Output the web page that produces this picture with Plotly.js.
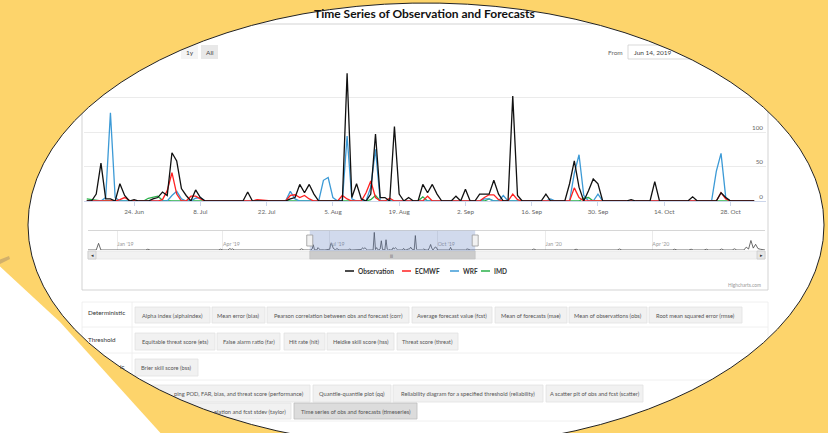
<!DOCTYPE html>
<html><head><meta charset="utf-8">
<script src="https://cdn.plot.ly/plotly-3.0.1.min.js"></script>
<style>html,body{margin:0;padding:0;background:#FDD46B;}#chart{width:828px;height:433px;}</style>
</head><body><div id="chart"></div>
<script>
// ---------------- DATA ----------------
const startDate = '2019-06-14';
const seriesNames = ['Observation', 'ECMWF', 'WRF', 'IMD'];
const seriesColors = ['#111111', '#ff2020', '#3c9ad6', '#2ab04a'];
const obs = [0,0,10,55,3,3,0,25,8,0, 2,0,0,0,3,5,13,8,70,58, 18,8,0,16,5,0,0,0,0,0, 0,0,0,0,13,0,0,0,0,0,
  0,0,0,3,5,24,12,24,10,0, 0,0,0,0,0,185,5,25,3,0, 10,97,5,5,0,108,10,0,5,0, 0,24,12,24,10,0,0,0,7,0,
  17,0,0,10,10,10,30,10,0,0, 152,8,0,0,0,0,0,10,0,0, 0,0,25,58,20,0,15,32,25,0, 0,0,0,0,0,2,0,0,0,0,
  28,0,0,0,0,0,0,0,6,0, 0,0,0,0,12,5,0,0,0,0,0,0];
const ecmwf = [0,0,0,0,0,0,0,2,5,1, 0,0,0,0,0,0,2,15,41,10, 0,0,7,7,3,0,0,0,0,0, 0,0,0,0,0,0,2,1,0,0,
  0,0,0,8,9,5,8,3,0,0, 0,0,0,0,8,3,0,0,0,12, 29,5,0,0,4,0,0,0,0,0, 0,0,7,0,0,0,0,0,0,0,
  0,0,0,0,5,9,9,2,0,0, 10,2,0,0,0,0,0,0,0,0, 0,0,0,19,5,0,0,0,0,0, 0,0,0,0,0,0,0,0,0,0,
  0,0,0,0,0,0,0,0,0,0, 0,0,0,0,12,3,0,0,0,0,0,0];
const wrf = [0,0,0,0,5,128,5,0,0,0, 0,0,0,0,0,0,0,0,8,14, 3,0,0,4,5,0,0,0,0,0, 0,0,0,0,0,0,0,0,0,0,
  0,0,0,14,3,0,0,0,0,0, 30,34,5,0,0,94,3,0,0,0, 20,75,0,0,0,0,0,0,0,0, 0,0,0,0,0,0,0,0,0,0,
  0,0,0,0,3,3,0,0,8,0, 0,0,0,0,0,0,0,0,3,0, 0,0,0,40,67,8,0,0,10,0, 0,0,0,0,0,0,0,0,0,0,
  0,0,0,0,0,0,0,0,0,0, 0,0,0,43,69,5,0,0,0,0,0,0];
const imd = [3,2,0,0,0,0,0,0,0,0, 0,0,0,4,6,7,1,0,0,0, 0,0,0,0,0,0,0,0,0,0, 1,1,1,0,0,0,0,0,0,0,
  0,0,0,0,0,0,0,0,0,0, 0,0,0,0,0,0,0,0,0,0, 2,8,0,0,0,0,0,0,0,0, 0,6,0,0,0,0,0,0,0,0,
  0,0,0,0,0,3,0,0,0,0, 0,0,0,0,0,0,0,0,0,0, 0,0,0,0,0,4,5,0,0,0, 0,0,0,0,0,0,0,0,0,0,
  0,0,0,0,0,0,0,0,0,0, 0,0,0,0,0,0,0,0,0,0,0,0];
// main x-axis ticks
const xTickVals = ['2019-06-24','2019-07-08','2019-07-22','2019-08-05','2019-08-19','2019-09-02','2019-09-16','2019-09-30','2019-10-14','2019-10-28'];
const xTickText = ['24. Jun','8. Jul','22. Jul','5. Aug','19. Aug','2. Sep','16. Sep','30. Sep','14. Oct','28. Oct'];
const yTickVals = [0,50,100,150,200];
// navigator (full observation record)
const navPreDates = ['2018-12-07','2018-12-14','2018-12-16','2018-12-18','2019-01-25','2019-01-27','2019-01-29','2019-02-18','2019-02-20','2019-02-22','2019-03-05','2019-03-07','2019-03-09','2019-03-28','2019-03-30','2019-04-01','2019-04-05','2019-04-07','2019-04-08','2019-04-09','2019-04-11','2019-05-14','2019-05-16','2019-05-18','2019-06-05','2019-06-07','2019-06-09','2019-06-13'];
const navPreVals  = [0,0,70,0, 0,8,0, 0,6,0, 0,6,0, 0,8,0, 0,15,5,12,0, 0,6,0, 0,12,0,0];
const navPostDates = ['2019-11-03','2019-11-20','2019-11-22','2019-11-24','2019-12-20','2019-12-22','2019-12-24','2020-01-25','2020-01-27','2020-01-29','2020-02-08','2020-02-10','2020-02-12','2020-02-20','2020-02-22','2020-02-24','2020-03-02','2020-03-04','2020-03-06','2020-04-18','2020-04-20','2020-04-22','2020-05-02','2020-05-04','2020-05-06','2020-05-15','2020-05-17','2020-05-19','2020-05-28','2020-05-30','2020-06-01','2020-06-08','2020-06-10','2020-06-12','2020-06-18','2020-06-20','2020-06-22','2020-06-24','2020-06-26','2020-06-28','2020-06-30','2020-07-02','2020-07-04','2020-07-06'];
const navPostVals  = [0,0,5,0, 0,10,0, 0,8,0, 0,6,0, 0,7,0, 0,10,0, 0,8,0, 0,8,0, 0,8,0, 0,10,0, 0,12,0, 0,30,10,100,20,60,15,8,0,0];
const navTickVals = ['2019-01-01','2019-04-01','2019-07-01','2019-10-01','2020-01-01','2020-04-01'];
const navTickText = ["Jan '19","Apr '19","Jul '19","Oct '19","Jan '20","Apr '20"];
const selFrom = '2019-06-14', selTo = '2019-11-02';
// page text
const chartTitle = 'Time Series of Observation and Forecasts';
const rowLabels = ['Deterministic','Threshold','ic'];
const row1 = ['Alpha index (alphaindex)','Mean error (bias)','Pearson correlation between obs and forecast (corr)','Average forecast value (fcst)','Mean of forecasts (mae)','Mean of observations (obs)','Root mean squared error (rmse)'];
const row2 = ['Equitable threat score (ets)','False alarm ratio (far)','Hit rate (hit)','Heidke skill score (hss)','Threat score (threat)'];
const row3 = ['Brier skill score (bss)'];
const row4 = ['ping POD, FAR, bias, and threat score (performance)','Quantile-quantile plot (qq)','Reliability diagram for a specified threshold (reliability)','A scatter plt of obs and fcst (scatter)'];
const row5 = ['elation and fcst stdev (taylor)','Time series of obs and forecasts (timeseries)'];

// ---------------- LAYOUT HELPERS ----------------
const W = 828, H = 433;
const X = p => p / W, Y = p => 1 - p / H;
const FONT = 'Lato, "Open Sans", sans-serif';
const YELLOW = '#FDD46B';

const dates = obs.map((_, i) => { const d = new Date(startDate + 'T00:00:00Z'); d.setUTCDate(d.getUTCDate() + i); return d.toISOString().slice(0,10); });
const seriesData = [obs, ecmwf, wrf, imd];

const traces = [];
[3,2,1,0].forEach(k => traces.push({
  type: 'scatter', mode: 'lines', x: dates, y: seriesData[k], name: seriesNames[k],
  line: {color: seriesColors[k], width: 1.3}, xaxis: 'x', yaxis: 'y', showlegend: false, hoverinfo: 'skip'
}));
traces.push({type:'scatter', mode:'lines', x: navPreDates.concat(dates, navPostDates), y: navPreVals.concat(obs, navPostVals),
  line:{color:'#444', width:0.8}, xaxis:'x2', yaxis:'y2', showlegend:false, hoverinfo:'skip'});

const shapes = [], annotations = [];
function rect(x0,y0,x1,y1,fill,line,layer){ shapes.push({type:'rect', xref:'paper', yref:'paper', x0:X(x0), x1:X(x1), y0:Y(y1), y1:Y(y0), fillcolor:fill, line:{color:line||'rgba(0,0,0,0)', width: line?0.8:0}, layer: layer||'below'}); }
function hline(x0,x1,y,color){ shapes.push({type:'line', xref:'paper', yref:'paper', x0:X(x0), x1:X(x1), y0:Y(y), y1:Y(y), line:{color:color, width:0.8}, layer:'below'}); }
function vline(x,y0,y1,color){ shapes.push({type:'line', xref:'paper', yref:'paper', x0:X(x), x1:X(x), y0:Y(y0), y1:Y(y1), line:{color:color, width:0.8}, layer:'below'}); }
function text(t,x,y,size,color,anchor,bold){ annotations.push({text: bold?'<b>'+t+'</b>':t, xref:'paper', yref:'paper', x:X(x), y:Y(y), xanchor:anchor||'left', yanchor:'middle', showarrow:false, font:{family:FONT, size:size, color:color}}); }

// chart container
rect(82, 24, 768, 290, 'rgba(0,0,0,0)', '#c8c8c8');
// range selector
rect(181, 45, 198, 59, '#f4f4f4');
rect(201, 45, 218, 59, '#e8e8e8');
text('1y', 189.5, 52.5, 6.5, '#444', 'center');
text('All', 209.5, 52.5, 6.5, '#444', 'center');
text('From', 625, 52.5, 6.5, '#666', 'right');
rect(628, 45, 694, 59, '#ffffff', '#cfcfcf');
text('Jun 14, 2019', 632, 52.5, 6.5, '#444', 'left');
// navigator frame
hline(88, 765, 230.5, '#cccccc');
shapes.push({type:'rect', xref:'x2', yref:'paper', x0:selFrom, x1:selTo, y0:Y(251), y1:Y(230.5), fillcolor:'rgba(102,133,194,0.30)', line:{width:0}, layer:'above'});
[selFrom, selTo].forEach(d => shapes.push({type:'rect', xref:'x2', yref:'paper', xsizemode:'pixel', xanchor:d, x0:-3, x1:3, y0:Y(246), y1:Y(235), fillcolor:'#f2f2f2', line:{color:'#999', width:0.8}, layer:'above'}));
// scrollbar
rect(88, 251, 765, 259, '#f2f2f2', '#e4e4e4');
rect(88, 251, 96, 259, '#e6e6e6', '#cccccc');
rect(757, 251, 765, 259, '#e6e6e6', '#cccccc');
shapes.push({type:'rect', xref:'x2', yref:'paper', x0:selFrom, x1:selTo, y0:Y(259), y1:Y(251), fillcolor:'#cccccc', line:{color:'#c0c0c0', width:0.6}, layer:'below'});
text('▸', 761, 255, 5, '#333', 'center');
text('◂', 92, 255, 5, '#333', 'center');
text('|||', 391.5, 255, 4, '#333', 'center');
// legend
const legX = [345, 402, 450, 481];
seriesNames.forEach((n,k) => {
  shapes.push({type:'line', xref:'paper', yref:'paper', x0:X(legX[k]), x1:X(legX[k]+9), y0:Y(271), y1:Y(271), line:{color:seriesColors[k], width:1.5}, layer:'below'});
  text(n, legX[k]+11, 271, 6.5, '#333', 'left', true);
});
text('Highcharts.com', 763, 284.5, 4.8, '#999', 'right');
// title
text(chartTitle, 425, 13, 12, '#111', 'center', true);
// table
const tableLines = '#ececec';
hline(82, 768, 302, tableLines); hline(82, 768, 327, tableLines); hline(82, 768, 353, tableLines); hline(82, 768, 380, tableLines); hline(82, 768, 421, tableLines);
vline(82, 302, 421, tableLines); vline(768, 302, 421, tableLines); vline(132, 302, 421, tableLines);
text(rowLabels[0], 86, 312, 6.3, '#333', 'left');
text(rowLabels[1], 86, 339, 6.3, '#333', 'left');
text(rowLabels[2], 127, 366, 6.3, '#333', 'right');
function buttons(labels, xs, y0, y1, active){
  labels.forEach((l,i) => {
    const isAct = active === i;
    rect(xs[i][0], y0, xs[i][1], y1, isAct ? '#dcdcdc' : '#f1f1f1', isAct ? '#bdbdbd' : '#e2e2e2');
    const right = xs[i][2] !== undefined;
    text(l, right ? xs[i][2] : (xs[i][0]+xs[i][1])/2, (y0+y1)/2, 5.7, '#555', right ? 'right' : 'center');
  });
}
buttons(row1, [[135,210],[212,265],[267,409],[412,492],[495,567],[569,647],[649,742]], 307, 323);
buttons(row2, [[135,215],[217,280],[284,325],[327,394],[397,458]], 333, 350);
buttons(row3, [[135,198]], 359, 376);
buttons(row4, [[100,310,306],[313,391],[393,543],[546,643]], 385, 402);
buttons(row5, [[100,291,288],[294,417]], 403, 419, 1);

// ellipse lens: yellow outside, outline
const cx = 426, cy = 225, rx = 398, ry = 222;
const N = 90;
function arcPts(a0, a1){ const pts=[]; for(let i=0;i<=N;i++){ const a=a0+(a1-a0)*i/N; pts.push([cx+rx*Math.cos(a), cy+ry*Math.sin(a)]); } return pts; }
const P = (pts) => pts.map((p,i)=>(i?'L':'M')+X(p[0]).toFixed(5)+','+Y(p[1]).toFixed(5)).join('');
const topArc = arcPts(Math.PI, 2*Math.PI);
const botArc = arcPts(Math.PI, 0);
shapes.push({type:'path', xref:'paper', yref:'paper', path: P([[-5,cy]].concat(topArc, [[W+5,cy],[W+5,-5],[-5,-5]])) + 'Z', fillcolor: YELLOW, line:{width:0}, layer:'above'});
shapes.push({type:'path', xref:'paper', yref:'paper', path: P([[-5,cy]].concat(botArc, [[W+5,cy],[W+5,H+15],[-5,H+15]])) + 'Z', fillcolor: YELLOW, line:{width:0}, layer:'above'});
// white corner at lower left and a small brownish fragment
shapes.push({type:'path', xref:'paper', yref:'paper', path: P([[-5,262],[60,322],[165,438],[-5,438]]) + 'Z', fillcolor:'#ffffff', line:{width:0}, layer:'above'});
shapes.push({type:'path', xref:'paper', yref:'paper', path: P([[-1,260],[9,256],[10,259],[0,264]]) + 'Z', fillcolor:'#d2b06a', line:{width:0}, layer:'above'});
// ellipse outline
shapes.push({type:'path', xref:'paper', yref:'paper', path: P(arcPts(0, 2*Math.PI)) + 'Z', fillcolor:'rgba(0,0,0,0)', line:{color:'#222', width:1}, layer:'above'});

const layout = {
  width: W, height: H, margin: {l:0, r:0, t:0, b:0},
  paper_bgcolor: '#ffffff', plot_bgcolor: 'rgba(0,0,0,0)', showlegend: false,
  font: {family: FONT},
  xaxis: {domain:[X(84), X(766)], range:['2019-06-13 10:00','2019-11-04 12:00'], type:'date',
    tickvals: xTickVals, ticktext: xTickText, tickfont:{size:6.3, color:'#666'}, ticks:'outside', ticklen:4, tickcolor:'#ccd6eb',
    showline:true, linecolor:'#ccd6eb', linewidth:1, showgrid:false, zeroline:false, fixedrange:true, automargin:false, anchor:'y'},
  yaxis: {domain:[Y(201), Y(63)], range:[0,200], side:'right', tickvals:yTickVals, ticklabelposition:'inside top',
    tickfont:{size:6.3, color:'#666'}, gridcolor:'#e6e6e6', gridwidth:0.8, zeroline:false, showline:false, fixedrange:true, automargin:false, anchor:'x'},
  xaxis2: {domain:[X(88), X(765)], range:['2018-12-07','2020-07-06'], type:'date', anchor:'y2',
    tickvals: navTickVals, ticktext: navTickText, ticklabelposition:'inside right', ticklabelstandoff:-3, tickfont:{size:5.3, color:'#999'},
    showgrid:true, gridcolor:'#e6e6e6', gridwidth:0.8, ticks:'', showline:false, zeroline:false, fixedrange:true, automargin:false},
  yaxis2: {domain:[Y(250), Y(231)], range:[0,200], visible:false, fixedrange:true, anchor:'x2'},
  shapes: shapes, annotations: annotations
};
Plotly.newPlot('chart', traces, layout, {staticPlot:true, displayModeBar:false});
</script></body></html>
